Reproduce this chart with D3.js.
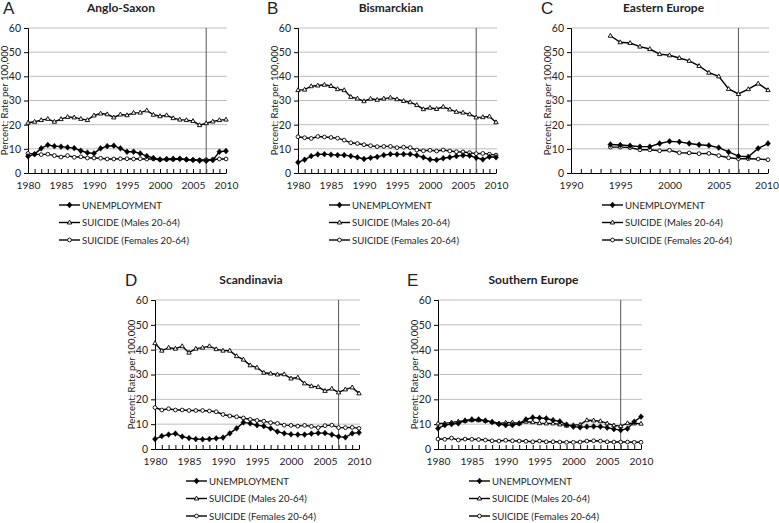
<!DOCTYPE html>
<html><head><meta charset="utf-8">
<script src="https://cdn.jsdelivr.net/npm/d3@7"></script>
<style>
body{margin:0;background:#fff;}
svg text{font-family:Lato,"Open Sans",sans-serif;fill:#222;}
</style></head>
<body><svg id="c" width="779" height="523"></svg>
<script>
const years80 = d3.range(1980, 2011);
const years94 = d3.range(1994, 2011);
const panelNames = ["Anglo-Saxon","Bismarckian","Eastern Europe","Scandinavia","Southern Europe"];
const panelLetters = ["A","B","C","D","E"];
const yTicks = [0,10,20,30,40,50,60];
const legendLabels = ["UNEMPLOYMENT","SUICIDE (Males 20-64)","SUICIDE (Females 20-64)"];
const crisisYear = 2007;

// A: Anglo-Saxon
const unempA = [6.9,7.8,10.2,11.6,11.1,10.9,10.6,10.3,9.2,8.4,8.1,10.2,11.1,11.3,10.2,8.8,8.8,8.1,7.0,6.2,5.6,5.8,5.9,5.9,5.6,5.4,5.1,5.0,5.3,8.8,9.1];
const malesA = [20.8,21.2,21.9,22.4,21.2,22.3,23.2,23.0,22.4,21.9,23.8,24.6,24.3,23.0,24.2,23.9,24.9,25.0,25.9,24.1,23.5,23.9,22.7,22.1,21.9,21.5,19.8,20.6,21.3,21.9,22.1];
const femalesA = [8.1,7.8,7.6,7.8,7.2,6.6,7.2,6.5,6.7,6.2,6.2,6.1,5.8,5.8,5.9,5.9,5.8,5.9,5.8,5.8,5.5,5.6,5.6,5.8,5.5,5.4,5.4,5.5,5.6,5.8,5.8];
// B: Bismarckian
const unempB = [4.4,5.5,7.0,7.7,7.8,7.6,7.4,7.4,7.0,6.5,5.8,6.3,6.7,7.4,7.8,7.7,7.8,7.8,7.3,6.5,5.6,5.4,6.1,6.5,7.0,7.3,7.2,6.3,5.6,6.7,6.5];
const malesB = [34.3,34.5,35.9,36.2,36.5,36.0,34.7,34.3,31.5,30.8,29.7,30.7,30.3,30.8,31.2,30.5,29.8,29.3,28.1,26.4,27.0,26.5,27.4,26.3,25.3,25.0,24.3,23.0,23.1,23.4,21.0];
const femalesB = [15.0,14.6,14.3,15.1,14.9,14.7,14.4,13.6,12.5,12.2,11.7,11.3,10.9,11.0,11.0,10.5,10.7,10.5,9.5,9.2,9.4,9.1,9.5,9.1,8.8,8.7,8.4,8.0,8.1,7.8,7.4];
// C: Eastern Europe (1994-2010)
const unempC = [11.8,11.6,11.3,10.9,10.9,12.2,13.1,12.9,12.2,11.7,11.4,10.5,8.7,7.0,6.7,10.2,12.2];
const malesC = [56.8,54.1,53.8,52.3,51.3,49.2,48.7,47.6,46.4,44.3,41.5,40.0,34.8,32.7,34.7,37.0,34.3];
const femalesC = [10.7,10.7,10.5,9.6,9.6,9.2,9.4,8.4,8.3,8.0,8.1,7.2,6.3,5.9,5.9,5.8,5.5];
// D: Scandinavia
const unempD = [4.0,5.2,5.8,6.2,5.0,4.4,4.0,3.9,4.0,4.3,4.6,6.3,8.3,10.7,10.3,9.6,9.2,8.3,7.0,6.3,5.9,5.8,5.8,6.2,6.4,6.4,5.8,5.0,4.7,6.3,6.6];
const malesD = [42.6,39.6,40.8,40.4,41.4,38.8,40.4,40.8,41.4,40.2,39.6,39.6,37.4,36.0,33.7,32.8,30.7,30.4,30.0,30.1,28.4,28.8,26.4,25.3,25.0,23.4,24.3,22.8,24.0,24.8,22.4];
const femalesD = [16.7,15.7,16.2,15.7,15.7,15.5,15.5,15.5,15.3,15.0,13.9,13.3,13.0,12.5,11.9,11.5,11.2,10.6,10.3,9.6,9.5,9.2,9.5,9.1,8.6,9.4,9.6,8.6,8.6,8.7,8.3];
// E: Southern Europe
const unempE = [8.3,9.6,10.0,10.3,11.4,11.9,11.9,11.4,10.8,10.0,9.6,9.6,10.3,11.9,12.7,12.5,12.3,11.6,11.1,9.8,9.0,8.7,9.0,9.1,9.0,8.6,8.0,7.6,8.2,11.0,13.0];
const malesE = [10.3,10.3,10.7,11.1,11.4,11.6,11.6,11.4,11.0,10.3,10.6,10.7,10.3,11.0,10.8,10.4,10.3,10.3,9.9,9.4,9.6,9.8,11.6,11.5,11.2,10.3,9.5,9.2,10.4,10.3,10.2];
const femalesE = [4.0,3.9,4.4,3.6,4.0,3.9,3.8,3.6,3.3,3.2,3.5,3.3,3.2,3.1,2.9,3.2,2.9,2.9,2.8,2.7,2.7,2.8,3.2,3.3,3.2,2.9,2.8,2.8,2.8,2.7,2.7];

const panelData = [
  {years: years80, u: unempA, m: malesA, f: femalesA, xStart: 1980},
  {years: years80, u: unempB, m: malesB, f: femalesB, xStart: 1980},
  {years: years94, u: unempC, m: malesC, f: femalesC, xStart: 1990},
  {years: years80, u: unempD, m: malesD, f: femalesD, xStart: 1980},
  {years: years80, u: unempE, m: malesE, f: femalesE, xStart: 1980}
];
// layout
const layout = [
  {x0:28, x1:226, yBot:173, yTop:28, letterX:3},
  {x0:298, x1:496, yBot:173, yTop:28, letterX:267},
  {x0:571, x1:768, yBot:173, yTop:28, letterX:541},
  {x0:155, x1:359, yBot:449, yTop:300, letterX:125},
  {x0:438, x1:641, yBot:449, yTop:300, letterX:407}
];

const svg = d3.select("#c");

const diamondPath = "M0,-2.9L2.5,0L0,2.9L-2.5,0Z";
const triPath = "M0,-2.4L2.2,1.5L-2.2,1.5Z";

function drawMarkers(g, pts, kind){
  if(kind==="u"){
    g.selectAll(null).data(pts).join("path")
      .attr("d", diamondPath).attr("transform", d=>`translate(${d[0]},${d[1]})`)
      .attr("fill","#000").attr("stroke","#000").attr("stroke-width",0.5);
  } else if(kind==="m"){
    g.selectAll(null).data(pts).join("path")
      .attr("d", triPath).attr("transform", d=>`translate(${d[0]},${d[1]})`)
      .attr("fill","#fff").attr("stroke","#000").attr("stroke-width",0.9);
  } else {
    g.selectAll(null).data(pts).join("circle")
      .attr("cx", d=>d[0]).attr("cy", d=>d[1]).attr("r",1.9)
      .attr("fill","#fff").attr("stroke","#000").attr("stroke-width",0.9);
  }
}

panelData.forEach((pd, i) => {
  const L = layout[i];
  const x = d3.scaleLinear().domain([pd.xStart, 2010]).range([L.x0, L.x1]);
  const y = d3.scaleLinear().domain([0, 60]).range([L.yBot, L.yTop]);
  const g = svg.append("g");

  // gridlines
  g.selectAll(null).data(yTicks.filter(t=>t>0)).join("line")
    .attr("x1", L.x0).attr("x2", L.x1+1)
    .attr("y1", d=>y(d)).attr("y2", d=>y(d))
    .attr("stroke","#bdbdbd").attr("stroke-width",1);

  // y axis
  const ya = g.append("g").attr("transform",`translate(${L.x0},0)`)
    .call(d3.axisLeft(y).tickValues(yTicks).tickSize(4).tickPadding(3));
  ya.select(".domain").attr("stroke","#000");
  ya.selectAll(".tick line").attr("stroke","#000");
  ya.selectAll("text").style("font-size","10.5px").attr("fill","#333");

  // x axis: minor ticks every year pointing up, labels every 5
  const xa = g.append("g").attr("transform",`translate(0,${L.yBot})`)
    .call(d3.axisBottom(x).tickValues(d3.range(pd.xStart, 2011)).tickSize(-4).tickSizeOuter(0)
      .tickFormat(d => d % 5 === 0 ? d : ""));
  xa.select(".domain").attr("stroke","#000");
  xa.selectAll(".tick line").attr("stroke","#000");
  xa.selectAll("text").attr("y", 9).style("font-size","10.3px").attr("fill","#333");
  if (i === 2) xa.selectAll("text").filter(d => d === 2010).attr("dx", -1.5);

  // vertical line at crisis year
  g.append("line").attr("x1", x(crisisYear)).attr("x2", x(crisisYear))
    .attr("y1", y(0)).attr("y2", y(60)).attr("stroke","#555").attr("stroke-width",1);

  // y label
  g.append("text").attr("transform",`translate(${L.x0-20},${(L.yBot+L.yTop)/2}) rotate(-90)`)
    .attr("text-anchor","middle").style("font-size","9.5px").attr("fill","#333").text("Percent; Rate per 100,000");

  // title and letter
  g.append("text").attr("x", (L.x0+L.x1)/2 - 6).attr("y", L.yTop-16)
    .attr("text-anchor","middle").style("font-size","12px").style("font-weight","bold").attr("fill","#111").text(panelNames[i]);
  g.append("text").attr("x", L.letterX).attr("y", L.yTop-14)
    .style("font-size","17px").style("font-family","'Liberation Sans',Arial,sans-serif").text(panelLetters[i]);

  // series
  const line = d3.line().x(d=>d[0]).y(d=>d[1]);
  const series = [["m", pd.m], ["f", pd.f], ["u", pd.u]];
  series.forEach(([k, vals]) => {
    const pts = vals.map((v, j) => [x(pd.years[j]), y(v)]);
    g.append("path").attr("d", line(pts)).attr("fill","none").attr("stroke","#000").attr("stroke-width",1.4);
    drawMarkers(g, pts, k);
  });

  // legend
  const lg = g.append("g");
  ["u","m","f"].forEach((k, j) => {
    const ly = L.yBot + 32 + j*17.5;
    const lx = L.x0 + 31;
    lg.append("line").attr("x1", lx).attr("x2", lx+21).attr("y1", ly).attr("y2", ly)
      .attr("stroke","#000").attr("stroke-width",1.4);
    drawMarkers(lg, [[lx+10.5, ly]], k);
    lg.append("text").attr("x", lx+23).attr("y", ly+3.5).style("font-size","9.6px").attr("fill","#111").text(legendLabels[j]);
  });
});
</script></body></html>
